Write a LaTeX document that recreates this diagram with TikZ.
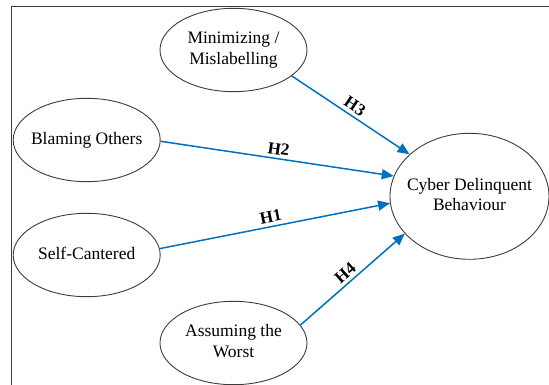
\documentclass[tikz,border=0pt]{standalone}
\usepackage{fontspec}
\setmainfont{Liberation Serif}
\usetikzlibrary{shapes.geometric,arrows.meta}
\definecolor{linkblue}{RGB}{0,112,192}
\definecolor{rimgray}{RGB}{60,60,60}
\newcommand{\ctext}[1]{\makebox[0pt]{\begin{tabular}{@{}c@{}}#1\end{tabular}}}
\begin{document}
\begin{tikzpicture}[x=1pt,y=-1pt,
  every node/.style={font=\fontsize{17.5}{21}\selectfont},
  construct/.style={ellipse,draw=rimgray,line width=0.9pt,inner sep=0pt,
    minimum width=147pt,minimum height=83.4pt},
  outcome/.style={construct,minimum width=159pt,minimum height=126pt},
  path/.style={draw=linkblue,line width=1.5pt,
    -{Triangle[length=12pt,width=10pt]}},
  hyp/.style={sloped,above,font=\fontsize{17}{20}\selectfont\bfseries,text=black}]
\useasboundingbox (0,0) rectangle (549,385);
% outer frame (top and left edges)
\draw[line width=1.4pt,rimgray] (11.5,385) -- (11.5,6.7) -- (549,6.7);
% constructs
\node[construct] (mini) at (233.5,50) {\ctext{Minimizing /\\Mislabelling}};
\node[construct] (blame) at (86.7,140) {\ctext{Blaming Others}};
\node[construct] (self) at (86.7,255) {\ctext{Self-Cantered}};
\node[construct] (worst) at (233.5,343) {\ctext{Assuming the\\Worst}};
\node[outcome] (cdb) at (469.5,196.3) {\ctext{Cyber Delinquent\\Behaviour}};
% hypothesised paths
\draw[path] (mini.-24) -- node[hyp,pos=0.49] {H3} (cdb.145.5);
\draw[path] (blame.-1.5) -- node[hyp,pos=0.5] {H2} (cdb.165.4);
\draw[path] (self.5.3) -- node[hyp,pos=0.49] {H1} (cdb.185.5);
\draw[path] (worst.15) -- node[hyp,pos=0.49] {H4} (cdb.210.2);
\end{tikzpicture}
\end{document}
